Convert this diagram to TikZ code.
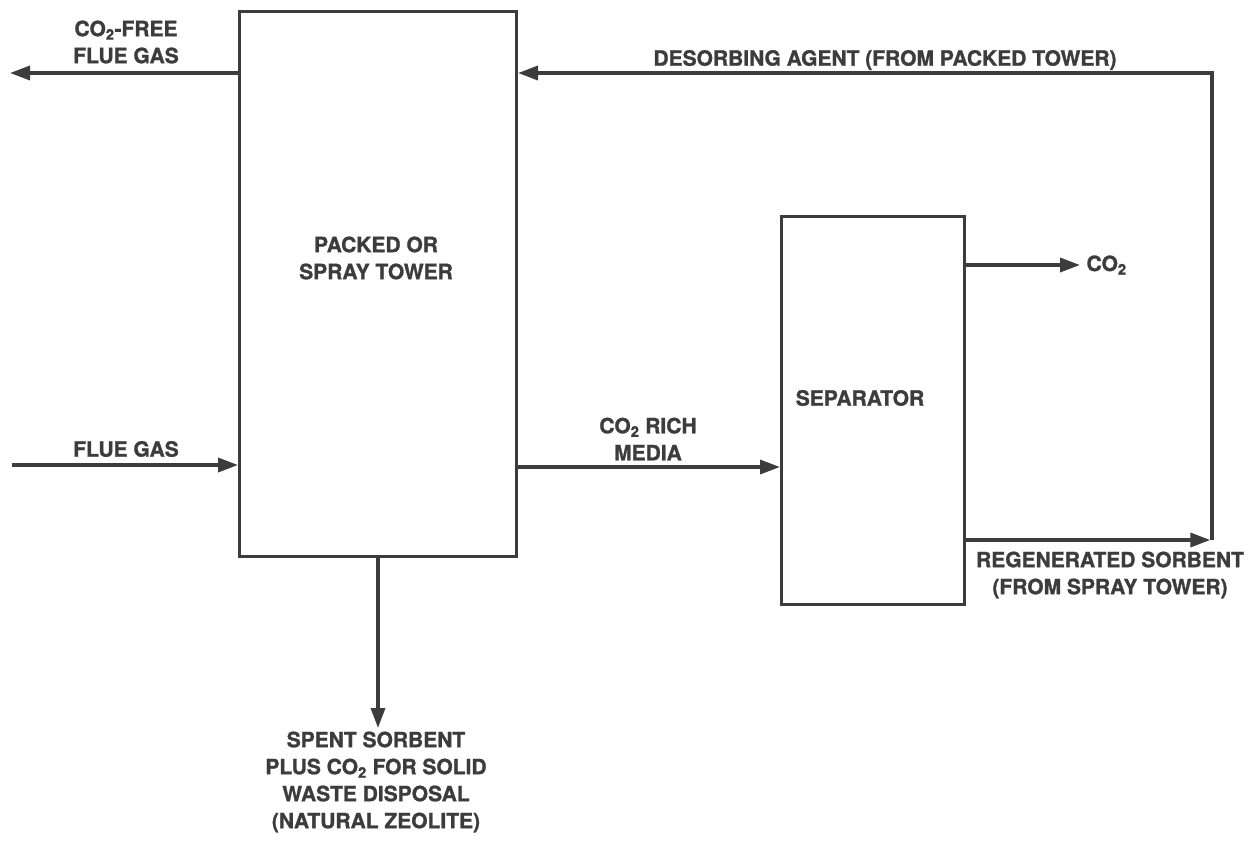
\documentclass[tikz,border=0pt]{standalone}
\usepackage{fontspec}
\setmainfont{TeX Gyre Heros}[BoldFeatures={FakeBold=1.2}]
\usetikzlibrary{arrows.meta, positioning}
\definecolor{InkGray}{HTML}{3C3C3C}

\begin{document}
\begin{tikzpicture}[x=1pt, y=-1pt,
  every node/.style={font=\fontsize{21}{27}\selectfont\bfseries, align=center, text=InkGray},
  unit/.style={draw=InkGray, line width=3pt, inner sep=0pt},
  flow/.style={draw=InkGray, line width=3.4pt, -{Triangle[length=20pt, width=14pt]}}]
  \useasboundingbox (0,0) rectangle (1256,852);

  % units
  \node[unit, minimum width=277pt, minimum height=545pt, anchor=north west] (tower) at (238,10) {};
  \node (towerlbl) at (376,258) {PACKED OR\\SPRAY TOWER};
  \node[unit, minimum width=183pt, minimum height=388pt, anchor=north west] (sep) at (780,215) {};
  \node (seplbl) at (860,398) {SEPARATOR};

  % free ends
  \coordinate (gasout) at (10,73);
  \coordinate (gasin) at (12,465);
  \coordinate (rich) at (0,467);
  \coordinate (co2out) at (1080,265);
  \coordinate (corner) at (1212,540);
  \coordinate (waste) at (376,728);

  % streams
  \draw[flow] (tower.west |- gasout) -- (gasout);
  \draw[flow] (gasin) -- (gasin -| tower.west);
  \draw[flow] (tower.east |- rich) -- (rich -| sep.west);
  \draw[flow] (sep.east |- co2out) -- (co2out);
  \draw[flow] (sep.east |- corner) -- ([xshift=-1.7pt]corner);
  \draw[flow] (corner) -- (corner |- gasout) -- (tower.east |- gasout);
  \draw[flow] (tower.south) -- (tower.south |- waste);

  % labels
  \node (gasoutlbl) at (126,42) {CO\textsubscript{2}-FREE\\FLUE GAS};
  \node (gasinlbl) at (126,449) {FLUE GAS};
  \node (desorblbl) at (885,60) {DESORBING AGENT (FROM PACKED TOWER)};
  \node (richlbl) at (648,439) {CO\textsubscript{2} RICH\\MEDIA};
  \node[right=3pt of co2out] (co2lbl) {CO\textsubscript{2}};
  \node (regenlbl) at (1110,575) {REGENERATED SORBENT\\(FROM SPRAY TOWER)};
  \node (wastelbl) at (376,782) {SPENT SORBENT\\PLUS CO\textsubscript{2} FOR SOLID\\WASTE DISPOSAL\\(NATURAL ZEOLITE)};
\end{tikzpicture}
\end{document}
